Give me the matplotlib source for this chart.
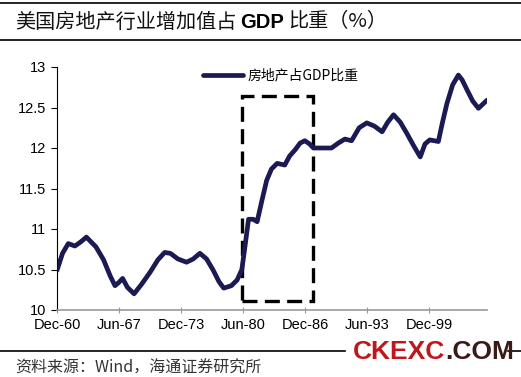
import matplotlib
matplotlib.use("Agg")
import matplotlib.pyplot as plt
from matplotlib.patches import Rectangle

plt.rcParams['font.family'] = ['Liberation Sans', 'Noto Sans CJK SC', 'DejaVu Sans']

# year (decimal), share of GDP (%)
years = [1960.92, 1961.5, 1962.1, 1962.8, 1963.4, 1964.0, 1965.0, 1965.8, 1966.5, 1967.0,
         1967.4, 1967.8, 1968.3, 1969.0, 1969.8, 1970.7, 1971.5, 1972.2, 1972.8, 1973.6,
         1974.5, 1975.2, 1975.9, 1976.6, 1977.3, 1977.9, 1978.4, 1979.2, 1979.8, 1980.3,
         1980.6, 1981.0, 1981.5, 1981.9, 1982.4, 1982.9, 1983.4, 1984.0, 1984.8, 1985.3,
         1985.9, 1986.4, 1986.9, 1987.4, 1987.8, 1988.7, 1989.7, 1990.4, 1991.1, 1991.8,
         1992.6, 1993.4, 1994.2, 1995.0, 1995.6, 1996.2, 1996.9, 1997.6, 1998.3, 1999.0,
         1999.5, 2000.0, 2000.9, 2001.3, 2001.8, 2002.4, 2003.0, 2003.4, 2003.9, 2004.5,
         2005.1, 2006.0]
share = [10.49, 10.70, 10.82, 10.79, 10.84, 10.90, 10.78, 10.62, 10.42, 10.30,
         10.34, 10.39, 10.28, 10.20, 10.32, 10.47, 10.62, 10.71, 10.70, 10.63,
         10.59, 10.63, 10.70, 10.63, 10.49, 10.35, 10.27, 10.30, 10.37, 10.50,
         10.76, 11.12, 11.12, 11.09, 11.35, 11.60, 11.74, 11.81, 11.79, 11.90,
         11.98, 12.06, 12.09, 12.05, 12.00, 12.00, 12.00, 12.06, 12.11, 12.09,
         12.25, 12.31, 12.27, 12.20, 12.32, 12.41, 12.32, 12.18, 12.03, 11.89,
         12.05, 12.10, 12.08, 12.30, 12.55, 12.78, 12.90, 12.84, 12.72, 12.58,
         12.49, 12.59]

xtick_pos = [1960.92, 1967.42, 1973.92, 1980.42, 1986.92, 1993.42, 1999.92]
xtick_labels = ['Dec-60', 'Jun-67', 'Dec-73', 'Jun-80', 'Dec-86', 'Jun-93', 'Dec-99']
ytick_pos = [10, 10.5, 11, 11.5, 12, 12.5, 13]
ytick_labels = ['10', '10.5', '11', '11.5', '12', '12.5', '13']

# highlighted period box
box_x = (1980.36, 1987.75)
box_y = (10.11, 12.64)

fig = plt.figure(figsize=(5.21, 3.77), dpi=100)
ax = fig.add_axes([57/521, 1-310/377, 430/521, 243/377])

ax.plot(years, share, color='#1b1a52', lw=3.4, solid_joinstyle='round',
        solid_capstyle='round', label='房地产占GDP比重')
ax.add_patch(Rectangle((box_x[0], box_y[0]), box_x[1]-box_x[0], box_y[1]-box_y[0],
                       fill=False, ec='black', lw=2.4, ls=(0, (4.5, 2.2)), clip_on=False))

ax.set_xlim(1960.92, 2006.0)
ax.set_ylim(10, 13)
ax.set_xticks(xtick_pos)
ax.set_xticklabels(xtick_labels, fontsize=10.5)
ax.set_yticks(ytick_pos)
ax.set_yticklabels(ytick_labels, fontsize=10.5)
ax.tick_params(axis='y', length=4, width=0.8, pad=4)
ax.tick_params(axis='x', length=4, width=0.8, direction='inout', colors='#999999',
               labelcolor='black', pad=4)
for s in ['top', 'right']:
    ax.spines[s].set_visible(False)
ax.spines['left'].set_color('black')
ax.spines['bottom'].set_color('#999999')
ax.spines['bottom'].set_linewidth(1.2)

leg = ax.legend(loc='upper left', bbox_to_anchor=(0.31, 1.045), frameon=False,
                prop={'family': ['Noto Sans CJK SC'], 'size': 10}, handlelength=2.9,
                handletextpad=0.35)
leg.get_lines()[0].set_linewidth(3.4)

# title band
fig.add_artist(plt.Line2D([0, 1], [1-3/377, 1-3/377], color='black', lw=1.2))
fig.add_artist(plt.Line2D([0, 1], [1-40/377, 1-40/377], color='black', lw=1.2))
t1 = fig.text(15/521, 1-22/377, '美国房地产行业增加值占', fontsize=14.5,
              family=['Noto Sans CJK SC'], va='center', ha='left', color='#111111')
t2 = plt.annotate('GDP', xy=(1, 0.5), xycoords=t1, xytext=(3, 0), textcoords='offset points',
                  fontsize=14.5, fontweight='bold', va='center', ha='left',
                  annotation_clip=False)
plt.annotate('比重（%）', xy=(1, 0.5), xycoords=t2, xytext=(3, 0), textcoords='offset points',
             fontsize=14.5, family=['Noto Sans CJK SC', 'DejaVu Sans'], va='center', ha='left',
             color='#111111', annotation_clip=False)

# footer
fig.add_artist(plt.Line2D([0, 345/521], [1-351/377, 1-351/377], color='black', lw=1.2))
fig.add_artist(plt.Line2D([508/521, 1], [1-351/377, 1-351/377], color='black', lw=1.2))
fig.text(15/521, 1-368/377, '资料来源：Wind，海通证券研究所', fontsize=11.5,
         family=['Noto Sans CJK SC', 'DejaVu Sans'], va='center', ha='left', color='#333333')
fig.text(445/521, 1-352/377, 'CKEXC', fontsize=19, fontweight='bold', color='#c0171d',
         va='center', ha='right')
fig.text(445/521, 1-352/377, '.COM', fontsize=19, fontweight='bold', color='#3a1a16',
         va='center', ha='left')

fig.savefig('out.png', dpi=100)
